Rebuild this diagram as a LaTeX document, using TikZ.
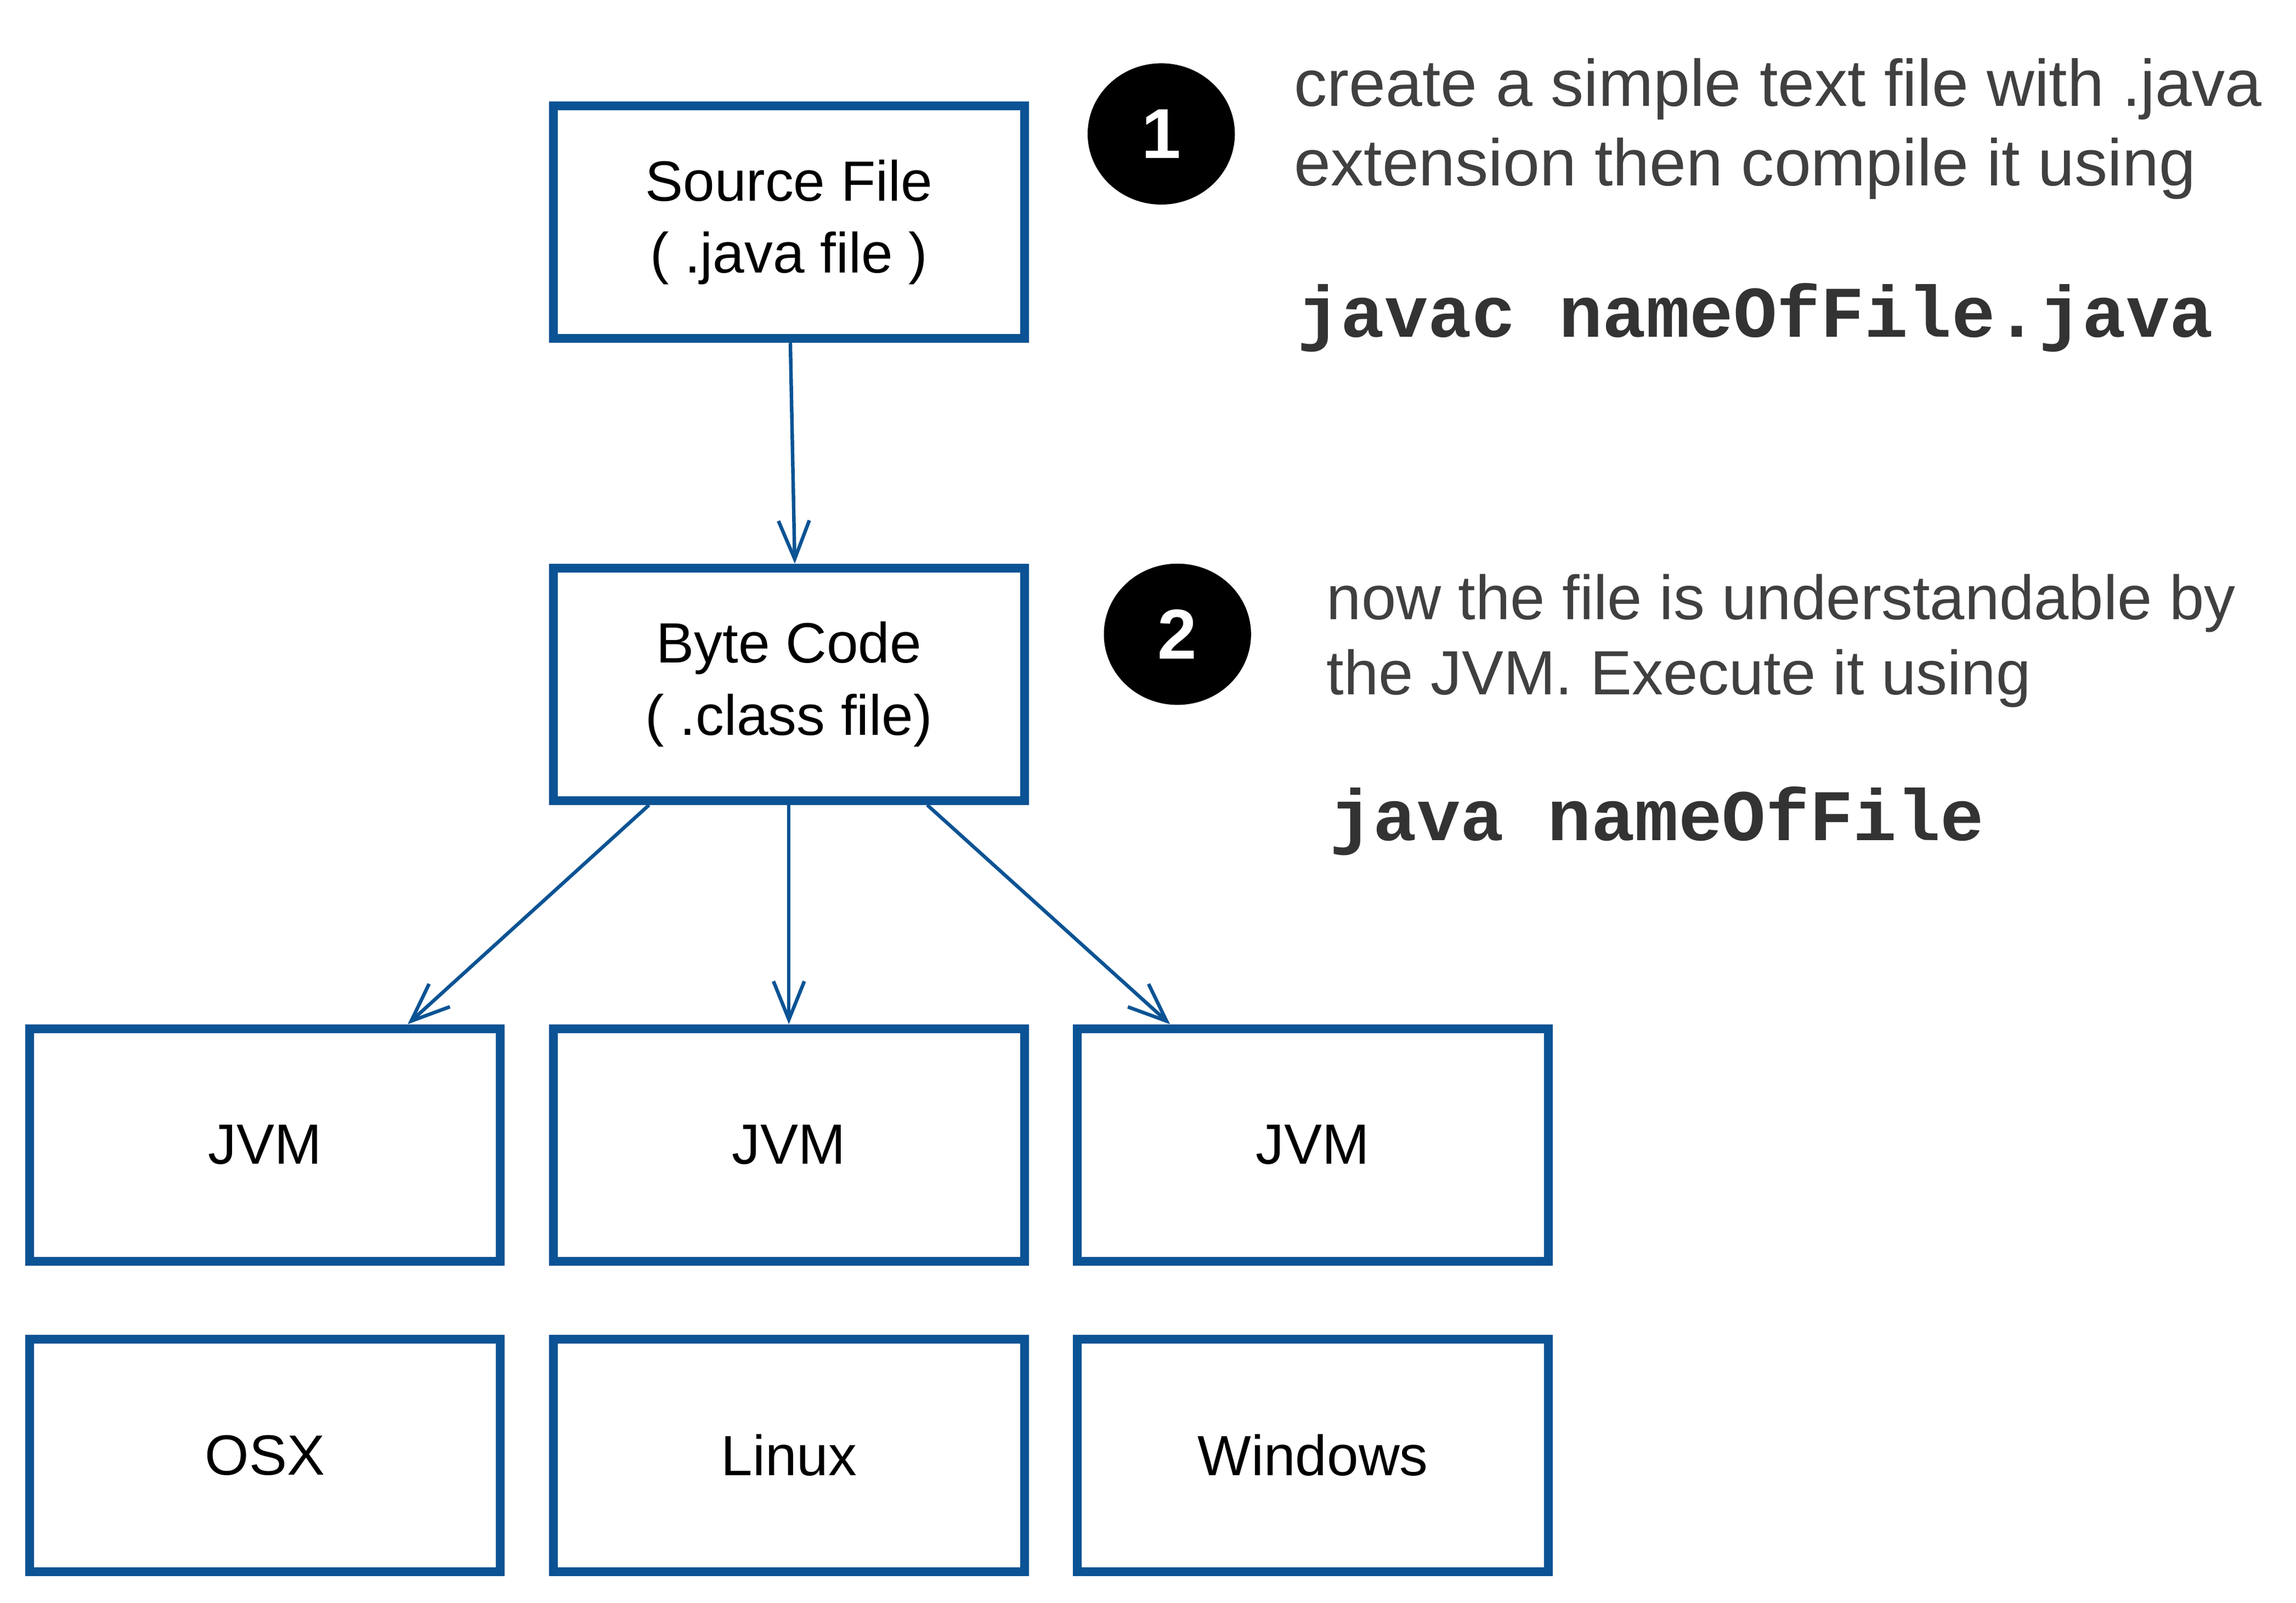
\documentclass[tikz,border=0pt]{standalone}
\usepackage{fontspec}
\setmainfont{Liberation Sans}
\setmonofont{Liberation Mono}
\usetikzlibrary{arrows.meta,shapes.geometric}
\definecolor{boxblue}{HTML}{0B5394}
\definecolor{notegray}{HTML}{404040}
\definecolor{codegray}{HTML}{333333}
\tikzset{
  block/.style={draw=boxblue, line width=3pt, minimum width=160pt, minimum height=79pt,
    align=center, font=\fontsize{19.3}{24.5}\selectfont},
  badge/.style={ellipse, fill=black, minimum width=50pt, minimum height=48pt, inner sep=0pt,
    text=white, font=\fontsize{24}{24}\selectfont\bfseries},
  note/.style={anchor=base west, inner sep=0pt, text=notegray, font=\fontsize{22.4}{27}\selectfont},
  cmd/.style={anchor=base west, inner sep=0pt, text=codegray, font=\fontsize{24.7}{28}\selectfont\ttfamily\bfseries},
  arr/.style={draw=boxblue, line width=1.2pt, -{Straight Barb[length=13pt,width=10.5pt]}}
}
\begin{document}
\begin{tikzpicture}[x=0.5pt, y=-0.5pt]
    \useasboundingbox (0,0) rectangle (1560,1089);
    % main chain
    \node[block] (src) at (536,151) {Source File\\( .java file )};
    \node[block] (byte) at (536,465) {Byte Code\\( .class file)};
    \node[block] (jvmA) at (180,778) {JVM};
    \node[block] (jvmB) at (536,778) {JVM};
    \node[block] (jvmC) at (892,778) {JVM};
    \node[block] (osx) at (180,989) {OSX};
    \node[block] (linux) at (536,989) {Linux};
    \node[block] (win) at (892,989) {Windows};

    \draw[arr] ([xshift=0.5pt]src.south) -- ([xshift=2pt]byte.north);
    \draw[arr] ([xshift=-47.5pt]byte.south) -- ([xshift=48.5pt]jvmA.north);
    \draw[arr] (byte.south) -- (jvmB.north);
    \draw[arr] ([xshift=47pt]byte.south) -- ([xshift=-48.5pt]jvmC.north);

    % steps
    \node[badge] (one) at (789,91) {1};
    \node[badge] (two) at (800,431) {2};
    \node[note] (oneA) at (879,72) {create a simple text file with .java};
    \node[note] (oneB) at (879,126) {extension then compile it using};
    \node[cmd] (oneC) at (881,229) {javac nameOfFile.java};
    \node[note, font=\fontsize{21.2}{26}\selectfont] (twoA) at (901,421) {now the file is understandable by};
    \node[note, font=\fontsize{21.2}{26}\selectfont] (twoB) at (901,472) {the JVM. Execute it using};
    \node[cmd] (twoC) at (903,571) {java nameOfFile};
\end{tikzpicture}
\end{document}
